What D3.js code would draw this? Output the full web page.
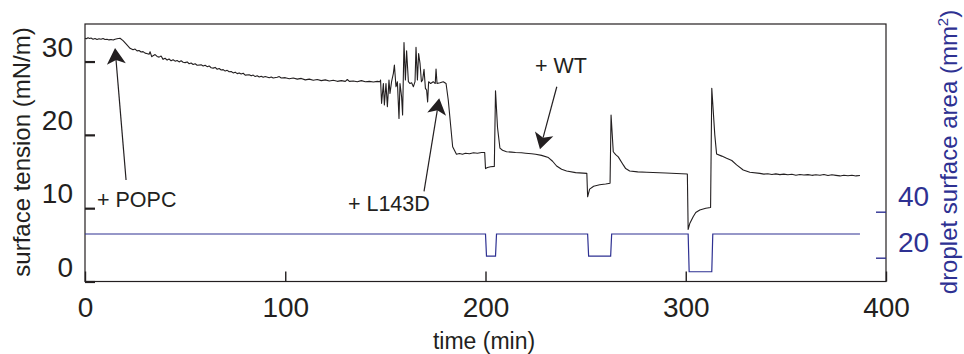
<!DOCTYPE html>
<html>
<head>
<meta charset="utf-8">
<script src="https://cdn.jsdelivr.net/npm/d3@7"></script>
<style>
  body { margin: 0; background: #fff; }
  svg { display: block; font-family: "Liberation Sans", Arial, sans-serif; }
</style>
</head>
<body>
<svg id="chart" width="964" height="354"></svg>
<script>
// surface tension trace, [time (min), mN/m]
var tension = [
  [0,33.17],[0.7,33.1],[1.5,33.25],[2.3,33.15],[3,33.2],[4,33.05],[5,33.15],[6,33.0],[7,33.1],[8,33.05],
  [9,33.15],[10,33.0],[11,33.05],[12,32.95],[13,33.0],[14.1,32.93],[15,33.05],[16,33.1],[17.5,33.17],
  [19,32.85],[20.5,32.4],[22.5,31.8],[24,31.6],[25,31.7],[26,31.45],[27,31.5],[28,31.3],[29,31.35],
  [30,31.15],[30.8,31.1],[32,31.0],[32.5,31.34],[33.3,30.66],[34,30.8],[35,30.95],[36,30.7],[37,30.6],
  [38,30.75],[39,30.3],[40,30.45],[41,30.2],[42,30.35],[43,30.1],[44,30.25],[45,30.05],[46,30.15],
  [47,29.95],[48,30.1],[49,29.9],[50,29.85],[51,29.95],[52,29.7],[53,29.8],[54,29.6],[55,29.7],
  [56,29.5],[58,29.55],[59,29.4],[60,29.5],[61,29.3],[62,29.4],[63,29.15],[64,29.1],[65,29.2],
  [66,28.95],[67,29.05],[68,28.85],[69,28.9],[70,28.7],[71,28.8],[72,28.6],[73,28.65],[74,28.45],
  [75,28.55],[76,28.35],[77,28.45],[78,28.3],[79,28.4],[80,28.15],[82,28.2],[83,28.05],[84,28.15],
  [85,27.95],[86,28.05],[87,27.9],[88,28.0],[89,27.85],[90,27.95],[92,27.8],[93,27.9],[94,27.75],
  [96,27.85],[97,27.95],[98,27.75],[100,27.8],[102,27.65],[104,27.75],[106,27.6],[108,27.7],[110,27.5],
  [112,27.6],[114,27.45],[116,27.55],[118,27.4],[120,27.5],[122,27.35],[124,27.45],[126,27.3],
  [128,27.4],[130,27.3],[131,27.55],[132,27.3],[134,27.35],[136,27.25],[138,27.4],[140,27.25],
  [142,27.3],[144,27.2],[146,27.3],[147.3,27.25],
  [147.6,27.48],[148.1,24.3],[149.0,27.0],[149.5,24.07],[150.3,27.0],[151.0,23.85],[151.8,27.48],
  [152.3,25.66],[153.1,27.25],[154.0,28.39],[154.5,29.52],[155.3,26.57],[156.0,27.25],[156.8,22.25],
  [157.3,27.0],[158.1,25.2],[158.6,22.7],[159.3,32.6],[160.0,27.48],[160.6,31.48],[161.5,27.25],
  [162.3,27.0],[163.1,27.1],[164.0,26.57],[164.8,27.25],[165.3,31.93],[166.0,27.48],[166.6,31.1],
  [167.3,29.75],[168.0,27.25],[168.6,27.48],[169.3,28.93],[170.0,26.34],[170.6,26.1],[171.1,24.5],
  [171.6,27.25],[172.6,27.0],[173.9,27.25],[174.9,27.0],[175.3,28.98],[175.8,27.0],[177.3,27.1],
  [178.9,27.25],[180.3,27.0],
  [181.4,24.75],[183.6,18.38],[185.5,17.35],[187,17.45],[188.5,17.35],[190,17.5],[192,17.42],
  [194,17.55],[196,17.5],[198,17.6],[199.6,17.6],
  [200,15.4],[201,15.55],[202.5,15.65],[204.4,15.7],[205,26.0],[206,21.0],[207.2,18.2],[208.5,17.9],
  [210.5,17.7],[213,17.65],[215,17.6],[218,17.55],[220,17.5],[223,17.42],[225,17.35],[228,17.2],
  [231.4,16.9],[233.5,16.4],[235.5,15.75],[238,15.3],[240.5,15.07],[245,14.85],[250.6,14.75],
  [251,11.56],[252,12.6],[254,13.0],[257,13.2],[260,13.3],[262.2,13.4],[262.7,22.7],[263.8,17.7],
  [265,17.3],[266.3,17.0],[268.8,15.9],[270,15.4],[272,15.07],[276,14.95],[280.5,14.9],[290,14.8],
  [300.8,14.66],
  [301.2,7.1],[302,7.9],[303.7,8.84],[305,9.4],[307,9.75],[310,10.0],[312.4,10.1],[313,26.35],
  [314.5,20.0],[315.4,17.4],[318,17.1],[320.4,16.8],[323,16.5],[325.4,15.9],[328.7,15.2],[332,14.9],
  [337,14.75],[339,14.65],[341,14.7],[343,14.6],[345,14.68],[347,14.58],[349,14.65],[351,14.55],
  [353,14.62],[355,14.5],[357,14.6],[359,14.52],[361,14.58],[363,14.48],[365,14.56],[367,14.5],
  [369,14.6],[371,14.45],[373,14.55],[375,14.48],[377,14.4],[379,14.5],[381,14.42],[383,14.5],
  [385,14.4],[387,14.45]
];

// droplet surface area, [time (min), mm^2]
var area = [
  [0,30.3],[200,30.3],[200.5,20.7],[205,20.7],[205.5,30.3],[251,30.3],[251.5,20.7],[262.5,20.7],
  [263,30.3],[301.2,30.3],[301.7,13.9],[313,13.9],[313.5,30.3],[387,30.3]
];

var xTicks = [0, 100, 200, 300, 400];
var yTicks = [0, 10, 20, 30];
var areaTicks = [20, 40];

// arrows: tip and tail in data units, label position
var notes = [
  {text: "+ POPC",  tip: [15.0, 31.84],  tail: [20.5, 13.84],  at: [6.0, 10.16]},
  {text: "+ L143D", tip: [176.9, 24.98], tail: [169.3, 12.3],  at: [131.3, 9.6]},
  {text: "+ WT",    tip: [227.2, 18.03], tail: [235.6, 26.56], at: [224.7, 28.47]}
];

var ink = "#231f20", blue = "#2e3192";
var plotL = 85, plotR = 886, plotT = 24, plotB = 281.5;

var svg = d3.select("#chart");

var x = d3.scaleLinear().domain([0, 400]).range([plotL, plotR]);
var y = d3.scaleLinear().domain([0, 35.12]).range([plotB, plotT]);
var y2 = d3.scaleLinear().domain([0, 121.6]).range([303.7, plotT]);

// frame
svg.append("rect")
  .attr("x", plotL).attr("y", plotT)
  .attr("width", plotR - plotL).attr("height", plotB - plotT)
  .attr("fill", "none").attr("stroke", ink).attr("stroke-width", 1.2);

// area trace
svg.append("path")
  .datum(area)
  .attr("fill", "none").attr("stroke", blue).attr("stroke-width", 1.2)
  .attr("d", d3.line().x(function(d) { return x(d[0]); }).y(function(d) { return y2(d[1]); }));

// tension trace
svg.append("path")
  .datum(tension)
  .attr("fill", "none").attr("stroke", ink).attr("stroke-width", 1.1)
  .attr("stroke-linejoin", "round")
  .attr("d", d3.line().x(function(d) { return x(d[0]); }).y(function(d) { return y(d[1]); }));

// bottom axis
var gx = svg.append("g").attr("transform", "translate(0," + plotB + ")")
  .call(d3.axisBottom(x).tickValues(xTicks).tickSize(-10).tickSizeOuter(0));
gx.select(".domain").remove();
gx.selectAll(".tick line").attr("stroke", ink).attr("stroke-width", 1.4);
gx.selectAll(".tick text")
  .attr("y", 35.5).attr("dy", 0)
  .attr("fill", ink).attr("font-size", 28)
  .attr("font-family", "Liberation Sans, Arial, sans-serif");

// left axis
var gy = svg.append("g").attr("transform", "translate(" + plotL + ",0)")
  .call(d3.axisLeft(y).tickValues(yTicks).tickSize(-10).tickSizeOuter(0));
gy.select(".domain").remove();
gy.selectAll(".tick line").attr("stroke", ink).attr("stroke-width", 2.2);
gy.selectAll(".tick text")
  .attr("x", -12).attr("dy", -5.5)
  .attr("fill", ink).attr("font-size", 28)
  .attr("font-family", "Liberation Sans, Arial, sans-serif");

// right axis
var gr = svg.append("g").attr("transform", "translate(" + plotR + ",0)")
  .call(d3.axisRight(y2).tickValues(areaTicks).tickSize(-10).tickSizeOuter(0));
gr.select(".domain").remove();
gr.selectAll(".tick line").attr("stroke", blue).attr("stroke-width", 1.4);
gr.selectAll(".tick text")
  .attr("x", 12).attr("dy", -6)
  .attr("fill", blue).attr("font-size", 28)
  .attr("font-family", "Liberation Sans, Arial, sans-serif");

// axis titles
svg.append("text")
  .attr("x", 484).attr("y", 349)
  .attr("text-anchor", "middle").attr("font-size", 23).attr("fill", ink)
  .text("time (min)");

svg.append("text")
  .attr("transform", "translate(30,152) rotate(-90)")
  .attr("text-anchor", "middle").attr("font-size", 24).attr("fill", ink)
  .text("surface tension (mN/m)");

var rt = svg.append("text")
  .attr("transform", "translate(957,152) rotate(-90)")
  .attr("text-anchor", "middle").attr("font-size", 24).attr("fill", blue);
rt.append("tspan").text("droplet surface area (mm");
rt.append("tspan").attr("dy", -9).attr("font-size", 15).text("2");
rt.append("tspan").attr("dy", 9).text(")");

// annotations
var L = 16, W = 9.5, N = 4;
notes.forEach(function(n) {
  var tx = x(n.tip[0]), ty = y(n.tip[1]);
  var ex = x(n.tail[0]), ey = y(n.tail[1]);
  var dx = ex - tx, dy = ey - ty, len = Math.sqrt(dx * dx + dy * dy);
  var ux = dx / len, uy = dy / len, px = -uy, py = ux;
  svg.append("line")
    .attr("x1", tx + ux * (L - N)).attr("y1", ty + uy * (L - N))
    .attr("x2", ex).attr("y2", ey)
    .attr("stroke", ink).attr("stroke-width", 1.2);
  svg.append("path")
    .attr("d", "M" + tx + "," + ty +
      "L" + (tx + ux * L + px * W) + "," + (ty + uy * L + py * W) +
      "L" + (tx + ux * (L - N)) + "," + (ty + uy * (L - N)) +
      "L" + (tx + ux * L - px * W) + "," + (ty + uy * L - py * W) + "Z")
    .attr("fill", ink);
  svg.append("text")
    .attr("x", x(n.at[0])).attr("y", y(n.at[1]))
    .attr("font-size", 21.5).attr("fill", ink)
    .text(n.text);
});
</script>
</body>
</html>
